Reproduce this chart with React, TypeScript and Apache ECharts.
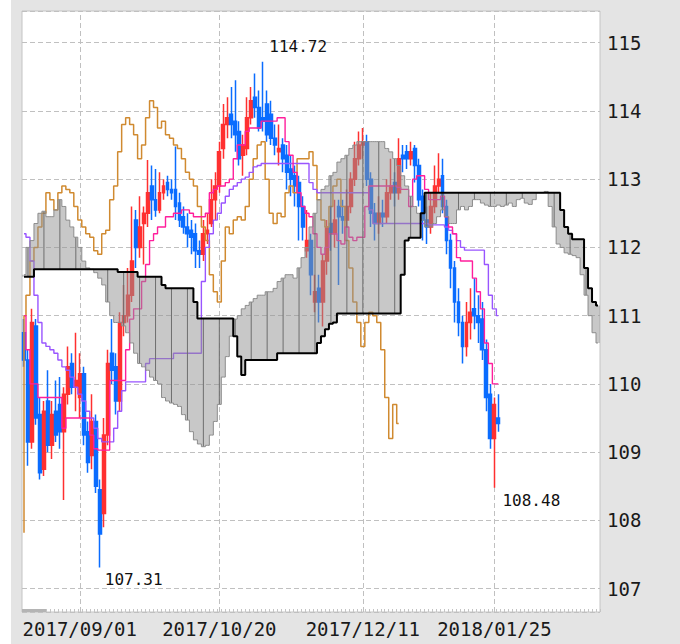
import React, { useEffect, useRef } from 'react';
import * as echarts from 'echarts';

// ---------- data ----------
const START_DATE = '2017-08-14';
const N_CATEGORIES = 145; // 120 trading days + 25 days of forward cloud
const TICK_LABELS = ['2017/09/01', '2017/10/20', '2017/12/11', '2018/01/25'];

const OPEN = [
  110.75, 110.35, 109.15, 110.85, 109.55, 108.75, 109.75, 109.1, 109.6, 109.7,
  109.3, 109.85, 110.3, 109.95, 109.8, 110.15, 109.3, 108.95, 109.45, 108.45,
  108.1, 109.25, 110.45, 110.25, 109.75, 110.9, 111.0, 111.3, 112.4, 112.0,
  112.35, 112.5, 112.9, 112.7, 112.55, 112.8, 112.95, 112.85, 112.85, 112.65,
  112.45, 112.3, 112.25, 112.2, 111.95, 111.9, 112.2, 112.35, 112.7, 112.9,
  113.45, 113.8, 113.95, 113.85, 113.7, 113.35, 113.45, 113.9, 114.2, 114.05,
  113.9, 114.1, 113.95, 113.6, 113.4, 113.5, 113.35, 113.15, 113.05, 112.95,
  112.6, 111.95, 112.1, 111.2, 111.4, 111.2, 111.8, 112.35, 112.2, 112.6,
  112.45, 112.4, 112.6, 113.0, 113.3, 113.5, 113.55, 113.0, 112.5, 112.35,
  112.5, 112.45, 112.8, 112.95, 112.8, 113.35, 113.4, 113.3, 113.45, 113.2,
  112.75, 112.4, 112.3, 112.6, 112.9, 113.05, 112.6, 112.1, 111.7, 111.2,
  110.9, 110.55, 110.9, 111.1, 111.0, 110.95, 110.5, 109.85, 109.2, 109.5,
];
const CLOSE = [
  110.35, 109.15, 110.9, 109.5, 108.7, 109.6, 109.1, 109.55, 109.25, 109.3,
  109.85, 110.25, 109.95, 110.05, 110.15, 109.25, 108.85, 109.45, 108.5, 107.8,
  109.25, 110.3, 110.2, 109.75, 110.9, 111.0, 111.3, 111.8, 112.0, 112.3,
  112.5, 112.8, 112.7, 112.55, 112.8, 112.9, 112.85, 112.8, 112.6, 112.4,
  112.3, 112.2, 112.15, 111.95, 111.9, 112.2, 112.25, 112.7, 112.9, 113.4,
  113.8, 113.9, 113.8, 113.65, 113.3, 113.5, 113.9, 114.15, 114.05, 113.75,
  113.85, 113.65, 113.6, 113.5, 113.45, 113.3, 113.1, 113.0, 112.9, 112.6,
  112.3, 112.1, 111.6, 111.35, 111.2, 111.8, 112.3, 112.2, 112.4, 112.45,
  112.4, 112.6, 113.0, 113.3, 113.5, 113.55, 113.0, 112.5, 112.35, 112.5,
  112.45, 112.8, 112.9, 112.8, 113.3, 113.3, 113.3, 113.4, 113.2, 112.7,
  112.4, 112.3, 112.6, 112.9, 113.0, 112.6, 112.1, 111.7, 111.2, 110.9,
  110.55, 110.9, 111.05, 111.0, 110.9, 110.5, 109.8, 109.2, 109.7, 109.42,
];
const HIGH = [
  110.95, 110.5, 111.1, 110.95, 109.8, 109.75, 110.2, 109.75, 110.05, 110.1,
  109.95, 110.55, 110.45, 110.75, 110.45, 110.25, 109.45, 109.85, 109.55, 108.6,
  109.5, 110.5, 110.95, 110.45, 111.05, 111.45, 111.7, 112.6, 112.55, 112.75,
  112.6, 113.28, 113.2, 113.15, 113.1, 113.0, 113.05, 113.0, 113.48, 112.8,
  112.6, 112.5, 112.4, 112.35, 112.1, 112.4, 112.5, 113.0, 113.1, 113.55,
  114.1, 114.2, 114.35, 114.45, 113.85, 113.65, 114.2, 114.35, 114.55, 114.3,
  114.72, 114.3, 114.15, 113.8, 113.8, 113.6, 113.5, 113.35, 113.2, 113.05,
  112.75, 112.55, 112.2, 111.6, 111.6, 111.9, 112.4, 112.6, 112.7, 112.7,
  112.7, 112.85, 113.1, 113.55, 113.7, 113.75, 113.65, 113.1, 112.65, 112.75,
  112.7, 113.0, 113.3, 113.1, 113.6, 113.5, 113.5, 113.55, 113.5, 113.3,
  112.85, 112.6, 112.8, 113.2, 113.38, 113.3, 112.7, 112.2, 111.8, 111.4,
  111.0, 111.2, 111.4, 111.55, 111.3, 111.2, 110.65, 110.0, 109.8, 109.85,
];
const LOW = [
  110.25, 108.8, 109.05, 109.4, 108.6, 108.65, 109.0, 108.9, 109.15, 109.05,
  108.3, 109.7, 109.85, 109.6, 109.5, 109.1, 108.7, 108.75, 108.4, 107.31,
  107.9, 109.1, 110.0, 109.55, 109.6, 110.7, 110.9, 111.2, 111.7, 111.85,
  111.75, 112.3, 112.4, 112.45, 112.5, 112.7, 112.75, 112.7, 112.4, 112.3,
  112.2, 112.0, 111.9, 111.7, 111.7, 111.8, 112.05, 112.3, 112.4, 112.8,
  113.3, 113.6, 113.6, 113.4, 113.2, 113.05, 113.35, 113.8, 113.9, 113.7,
  113.7, 113.55, 113.5, 113.35, 113.2, 113.1, 112.85, 112.75, 112.6, 112.1,
  112.1, 111.85, 111.3, 111.05, 110.9, 110.84, 111.6, 111.95, 112.0, 111.45,
  112.2, 112.3, 112.5, 112.9, 113.2, 113.3, 112.9, 112.3, 112.1, 112.2,
  112.3, 112.35, 112.7, 112.6, 112.7, 113.1, 113.15, 113.2, 112.95, 112.6,
  112.1, 112.05, 112.2, 112.5, 112.8, 112.5, 111.9, 111.4, 110.9, 110.7,
  110.3, 110.4, 110.65, 110.8, 110.6, 110.35, 109.6, 109.05, 108.48, 109.3,
];

// 転換線 (conversion line)
const TENKAN = [
  111.0, 110.5, 110.0, 110.0, 109.8, 109.8, 109.8, 109.8, 109.8, 109.8,
  109.35, 109.5, 109.5, 109.5, 109.5, 109.5, 109.5, 109.25, 109.05, 109.03,
  109.03, 109.03, 110.05, 110.05, 110.05, 110.05, 110.5, 110.95, 111.1, 111.1,
  111.5, 111.75, 112.1, 112.2, 112.3, 112.3, 112.45, 112.45, 112.5, 112.5,
  112.55, 112.55, 112.5, 112.45, 112.45, 112.45, 112.5, 112.8, 112.85, 112.9,
  112.9, 112.95, 113.0, 113.3, 113.5, 113.5, 113.7, 113.75, 113.75, 113.75,
  113.85, 113.85, 113.85, 113.85, 113.9, 113.9, 113.55, 113.35, 113.1, 112.8,
  112.6, 112.5, 112.45, 112.2, 112.0, 111.9, 112.0, 112.2, 112.2, 112.1,
  112.05, 112.3, 112.15, 112.1, 112.15, 112.15, 112.6, 112.9, 112.9, 112.9,
  112.9, 112.9, 112.9, 112.9, 112.88, 112.85, 112.85, 112.6, 113.0, 113.05,
  113.05, 112.85, 112.7, 112.7, 112.7, 112.75, 112.45, 112.3, 112.2, 111.85,
  111.8, 111.8, 111.8, 111.55, 111.35, 111.1, 110.6, 110.3, 110.0, 110.0,
];
// 基準線 (base line)
const KIJUN = [
  112.2, 112.15, 111.8, 111.3, 110.9, 110.6, 110.55, 110.5, 110.45, 110.35,
  110.25, 110.2, 110.1, 109.95, 109.85, 109.75, 109.6, 109.5, 109.35, 109.2,
  109.15, 109.15, 109.15, 109.35, 109.6, 109.9, 110.03, 110.03, 110.03, 110.03,
  110.03, 110.3, 110.37, 110.37, 110.37, 110.37, 110.37, 110.37, 110.45, 110.45,
  110.45, 110.45, 110.45, 110.45, 110.45, 111.5, 112.0, 112.2, 112.4, 112.5,
  112.65, 112.75, 112.85, 112.9, 112.95, 113.0, 113.03, 113.1, 113.18, 113.2,
  113.23, 113.23, 113.23, 113.23, 113.23, 113.23, 113.23, 113.23, 113.23, 113.23,
  113.23, 113.23, 112.95, 112.85, 112.8, 112.8, 112.8, 112.8, 112.8, 112.8,
  112.8, 112.8, 112.8, 112.8, 112.8, 112.8, 112.8, 112.55, 112.35, 112.35,
  112.35, 112.35, 112.35, 112.35, 112.35, 112.35, 112.35, 112.35, 112.35, 112.35,
  112.35, 112.35, 112.33, 112.33, 112.33, 112.33, 112.3, 112.25, 112.2, 112.1,
  112.0, 111.96, 111.96, 111.96, 111.96, 111.96, 111.75, 111.3, 111.1, 111.0,
];
// 遅行スパン (lagging span), plotted 25 days back
const CHIKOU = [
  111.0, 111.3, 111.8, 112.0, 112.3, 112.5, 112.8, 112.7, 112.55, 112.8,
  112.9, 112.85, 112.8, 112.6, 112.4, 112.3, 112.2, 112.15, 111.95, 111.9,
  112.2, 112.25, 112.7, 112.9, 113.4, 113.8, 113.9, 113.8, 113.65, 113.3,
  113.5, 113.9, 114.15, 114.05, 113.75, 113.85, 113.65, 113.6, 113.5, 113.45,
  113.3, 113.1, 113.0, 112.9, 112.6, 112.3, 112.1, 111.6, 111.35, 111.2,
  111.8, 112.3, 112.2, 112.4, 112.45, 112.4, 112.6, 113.0, 113.3, 113.5,
  113.55, 113.0, 112.5, 112.35, 112.5, 112.45, 112.8, 112.9, 112.8, 113.3,
  113.3, 113.3, 113.4, 113.2, 112.7, 112.4, 112.3, 112.6, 112.9, 113.0,
  112.6, 112.1, 111.7, 111.2, 110.9, 110.55, 110.9, 111.05, 111.0, 110.9,
  110.5, 109.8, 109.2, 109.7, 109.42,
];
// the lagging span enters the chart from below at its left edge
const CHIKOU_LEFT_EDGE_FROM = 107.82;

// 先行スパンA
const SPAN_A = [
  111.6, 112.0, 112.1, 112.35, 112.5, 112.53, 112.45, 112.45, 112.55, 112.7,
  112.6, 112.4, 112.3, 112.15, 112.0, 111.8, 111.7, 111.68, 111.63, 111.55,
  111.45, 111.2, 111.0, 110.9, 110.9, 110.85, 110.75, 110.6, 110.45, 110.3,
  110.25, 110.2, 110.1, 110.05, 110.0, 109.8, 109.75, 109.72, 109.7, 109.67,
  109.55, 109.47, 109.3, 109.18, 109.12, 109.08, 109.1, 109.25, 109.45, 109.7,
  110.1, 110.4, 110.7, 110.95, 111.0, 111.1, 111.15, 111.2, 111.25, 111.3,
  111.3, 111.35, 111.35, 111.4, 111.5, 111.55, 111.6, 111.6, 111.55, 111.7,
  111.85, 112.0, 112.3, 112.5, 112.7, 112.85, 112.9, 113.05, 113.1, 113.25,
  113.3, 113.35, 113.45, 113.5, 113.55, 113.55, 113.55, 113.55, 113.55, 113.55,
  113.55, 113.45, 113.4, 113.3, 113.2, 113.05, 112.9, 112.75, 112.6, 112.5,
  112.4, 112.3, 112.3, 112.35, 112.45, 112.55, 112.45, 112.35, 112.35, 112.55,
  112.6, 112.55, 112.6, 112.7, 112.7, 112.65, 112.62, 112.6, 112.6, 112.62,
  112.6, 112.62, 112.65, 112.6, 112.7, 112.72, 112.65, 112.63, 112.7, 112.8,
  112.8, 112.82, 112.6, 112.3, 112.05, 112.0, 111.92, 111.9, 111.88, 111.85,
  111.6, 111.3, 111.0, 110.75, 110.6,
];
// 先行スパンB
const SPAN_B = [
  111.57, 111.57, 111.57, 111.68, 111.68, 111.68, 111.68, 111.68, 111.68, 111.68,
  111.68, 111.68, 111.68, 111.68, 111.68, 111.68, 111.68, 111.68, 111.68, 111.68,
  111.68, 111.68, 111.68, 111.68, 111.64, 111.64, 111.64, 111.64, 111.64, 111.57,
  111.57, 111.57, 111.57, 111.57, 111.57, 111.45, 111.4, 111.4, 111.4, 111.4,
  111.4, 111.4, 111.4, 111.2, 110.96, 110.96, 110.96, 110.96, 110.96, 110.96,
  110.96, 110.96, 110.96, 110.7, 110.4, 110.13, 110.35, 110.35, 110.35, 110.35,
  110.35, 110.35, 110.35, 110.35, 110.45, 110.45, 110.45, 110.45, 110.45, 110.45,
  110.45, 110.45, 110.45, 110.45, 110.6, 110.7, 110.8, 110.88, 110.9, 111.03,
  111.03, 111.03, 111.03, 111.03, 111.03, 111.03, 111.03, 111.03, 111.03, 111.03,
  111.03, 111.03, 111.03, 111.03, 111.03, 111.6, 112.1, 112.14, 112.14, 112.14,
  112.5, 112.8, 112.8, 112.8, 112.8, 112.8, 112.8, 112.8, 112.8, 112.8,
  112.8, 112.8, 112.8, 112.8, 112.8, 112.8, 112.8, 112.8, 112.8, 112.8,
  112.8, 112.8, 112.8, 112.8, 112.8, 112.8, 112.8, 112.8, 112.8, 112.8,
  112.8, 112.8, 112.8, 112.8, 112.8, 112.55, 112.3, 112.2, 112.12, 112.12,
  112.12, 111.7, 111.4, 111.2, 111.15,
];

const ANNOTATIONS = [
  { date: '2017/11/06', value: 114.72, offset: [35, -15] },
  { date: '2017/09/08', value: 107.31, offset: [34, 12] },
  { date: '2018/01/25', value: 108.48, offset: [37, 13] },
];

const Y_MIN = 106.658;
const Y_MAX = 115.464;

// ---------- helpers ----------
const pad = (n: number) => (n < 10 ? '0' + n : '' + n);
function weekdayCategories(start: string, n: number): string[] {
  const out: string[] = [];
  const d = new Date(start + 'T00:00:00Z');
  while (out.length < n) {
    const wd = d.getUTCDay();
    if (wd !== 0 && wd !== 6) {
      out.push(`${d.getUTCFullYear()}/${pad(d.getUTCMonth() + 1)}/${pad(d.getUTCDate())}`);
    }
    d.setUTCDate(d.getUTCDate() + 1);
  }
  return out;
}
const DATES = weekdayCategories(START_DATE, N_CATEGORIES);

const MONO = '"DejaVu Sans Mono", "Liberation Mono", monospace';
const RED = '#ff3030';
const BLUE = '#0a6cff';

function buildOption() {
  const candles = OPEN.map((o, i) => [o, CLOSE[i], LOW[i], HIGH[i]]);

  return {
    animation: false,
    backgroundColor: '#e4e4e4',
    grid: {
      left: 11,
      top: 11,
      width: 578,
      height: 601,
      show: true,
      backgroundColor: '#ffffff',
      borderColor: '#c4c4c4',
      borderWidth: 1,
    },
    xAxis: {
      type: 'category',
      data: DATES,
      boundaryGap: true,
      axisLine: { show: false },
      axisTick: { show: true, inside: true, length: 3, interval: 0, lineStyle: { color: '#c4c4c4' } },
      axisLabel: {
        interval: (_i: number, v: string) => TICK_LABELS.includes(v),
        margin: 7,
        fontFamily: MONO,
        fontSize: 19,
        color: '#1a1a1a',
      },
      splitLine: { show: false },
    },
    yAxis: {
      type: 'value',
      position: 'right',
      min: Y_MIN,
      max: Y_MAX,
      splitNumber: 8,
      minInterval: 1,
      maxInterval: 1,
      axisLine: { show: false },
      axisTick: { show: false },
      axisLabel: {
        margin: 7,
        fontFamily: MONO,
        fontSize: 19,
        color: '#1a1a1a',
        showMinLabel: false,
        showMaxLabel: false,
      },
      splitLine: { show: true, lineStyle: { type: [5, 3], color: '#c0c0c0', width: 1 } },
    },
    graphic: [
      { type: 'rect', left: 11, top: 609, shape: { width: 24, height: 3 }, style: { fill: '#b4b4b4' }, silent: true, z: 100 },
    ],
    series: [
      {
        name: 'grid-v',
        type: 'line',
        data: [],
        z: 0,
        silent: true,
        markLine: {
          silent: true,
          z: 0,
          symbol: ['none', 'none'],
          label: { show: false },
          lineStyle: { type: [5, 3], color: '#c0c0c0', width: 1 },
          data: TICK_LABELS.map((d) => ({ xAxis: d })),
        },
      },
      {
        name: 'candles',
        type: 'candlestick',
        data: candles,
        z: 2,
        barWidth: 3.4,
        silent: true,
        itemStyle: {
          color: RED,
          color0: BLUE,
          borderColor: RED,
          borderColor0: BLUE,
          borderWidth: 1.5,
        },
        markPoint: {
          silent: true,
          symbol: 'circle',
          symbolSize: 0,
          label: {
            show: true,
            fontFamily: MONO,
            fontSize: 16,
            color: '#111111',
            formatter: (p: any) => Number(p.value).toFixed(2),
          },
          data: ANNOTATIONS.map((a) => ({
            coord: [a.date, a.value],
            value: a.value,
            label: { offset: a.offset },
          })),
        },
      },
      {
        name: 'chikou',
        type: 'line',
        data: CHIKOU,
        step: 'middle',
        symbol: 'none',
        z: 3,
        silent: true,
        lineStyle: { color: '#d08a30', width: 1.5 },
        markLine: {
          silent: true,
          symbol: ['none', 'none'],
          label: { show: false },
          lineStyle: { type: 'solid', color: '#d08a30', width: 1.5 },
          data: [[
            { coord: [DATES[0], CHIKOU_LEFT_EDGE_FROM] },
            { coord: [DATES[0], CHIKOU[0]] },
          ]],
        },
      },
      {
        name: 'kijun',
        type: 'line',
        data: KIJUN,
        step: 'middle',
        symbol: 'none',
        z: 3,
        silent: true,
        lineStyle: { color: '#9955ff', width: 1.4 },
      },
      {
        name: 'tenkan',
        type: 'line',
        data: TENKAN,
        step: 'middle',
        symbol: 'none',
        z: 3,
        silent: true,
        lineStyle: { color: '#ff1e9c', width: 1.4 },
      },
      {
        name: 'cloud',
        type: 'custom',
        coordinateSystem: 'cartesian2d',
        z: 4,
        silent: true,
        clip: true,
        data: [[0, SPAN_A[0]]],
        encode: { x: 0, y: 1 },
        renderItem: (_params: any, api: any) => {
          const w = api.size([1, 0])[0];
          const top: number[][] = [];
          const bot: number[][] = [];
          const hatch: any[] = [];
          for (let k = 0; k < SPAN_A.length; k++) {
            const a = SPAN_A[k];
            const b = SPAN_B[k];
            const p1 = api.coord([k, Math.max(a, b)]);
            const p2 = api.coord([k, Math.min(a, b)]);
            top.push([p1[0] - w / 2, p1[1]], [p1[0] + w / 2, p1[1]]);
            bot.push([p2[0] - w / 2, p2[1]], [p2[0] + w / 2, p2[1]]);
            if (k % 4 === 1 && Math.abs(p2[1] - p1[1]) > 1) {
              hatch.push({
                type: 'line',
                shape: { x1: p1[0], y1: p1[1], x2: p2[0], y2: p2[1] },
                style: { stroke: '#6e6e6e', lineWidth: 1 },
              });
            }
          }
          return {
            type: 'group',
            children: [
              {
                type: 'polygon',
                shape: { points: top.concat(bot.reverse()) },
                style: { fill: 'rgba(145,145,145,0.5)' },
              },
              ...hatch,
            ],
          };
        },
      },
      {
        name: 'spanA',
        type: 'line',
        data: SPAN_A,
        step: 'middle',
        symbol: 'none',
        z: 5,
        silent: true,
        lineStyle: { color: '#8c8c8c', width: 1 },
      },
      {
        name: 'spanB',
        type: 'line',
        data: SPAN_B,
        step: 'middle',
        symbol: 'none',
        z: 6,
        silent: true,
        lineStyle: { color: '#000000', width: 2 },
      },
    ],
  };
}

export default function App() {
  const ref = useRef<HTMLDivElement>(null);
  useEffect(() => {
    if (!ref.current) return;
    const chart = echarts.init(ref.current, null, { renderer: 'svg' });
    chart.setOption(buildOption() as any);
    return () => chart.dispose();
  }, []);
  return (
    <div
      ref={ref}
      style={{ position: 'absolute', left: 11, top: 0, width: 669, height: 644 }}
    />
  );
}
